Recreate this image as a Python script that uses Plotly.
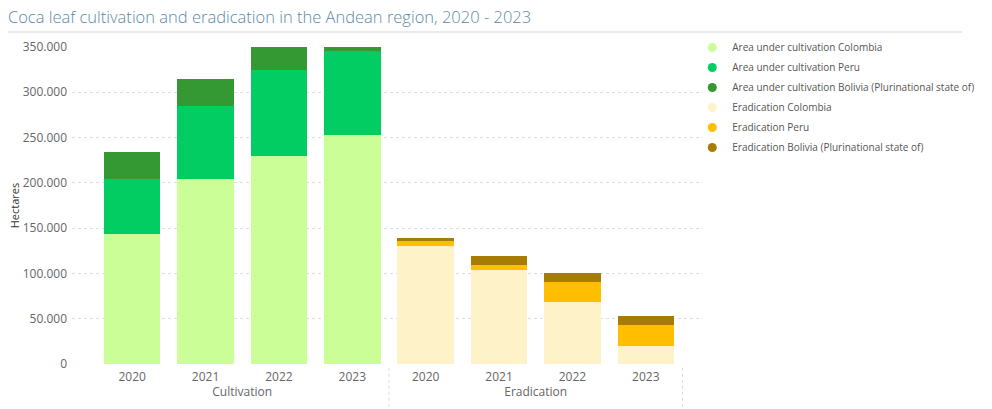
import plotly.graph_objects as go

# data (hectares)
years = ["2020", "2021", "2022", "2023"]
groups = ["Cultivation", "Eradication"]

cult_colombia = [143000, 204000, 230000, 253000]
cult_peru = [61800, 80700, 95000, 92800]
cult_bolivia = [29400, 30500, 29900, 31000]

erad_colombia = [130100, 103300, 69000, 20400]
erad_peru = [6200, 5800, 21300, 22500]
erad_bolivia = [2900, 9600, 10200, 10100]

names = [
    "Area under cultivation Colombia",
    "Area under cultivation Peru",
    "Area under cultivation Bolivia (Plurinational state of)",
    "Eradication Colombia",
    "Eradication Peru",
    "Eradication Bolivia (Plurinational state of)",
]
colors = ["#ccfe98", "#02cd63", "#349833", "#fef2c9", "#ffbf00", "#a67c05"]

# two level x axis: group / year
x_group = [groups[0]] * 4 + [groups[1]] * 4
x_year = years + years
x = [x_group, x_year]

empty = [None] * 4
series = [
    cult_colombia + empty,
    cult_peru + empty,
    cult_bolivia + empty,
    empty + erad_colombia,
    empty + erad_peru,
    empty + erad_bolivia,
]

fig = go.Figure()

for name, col, vals in zip(names, colors, series):
    fig.add_trace(go.Bar(
        x=x, y=vals, name=name,
        marker=dict(color=col, line=dict(width=0)),
        showlegend=False,
        hovertemplate="%{y:,}<extra>" + name + "</extra>",
    ))

# round legend markers like the original
for name, col in zip(names, colors):
    fig.add_trace(go.Scatter(
        x=[None], y=[None], mode="markers", name=name, legendgroup=name,
        marker=dict(symbol="circle", size=9, color=col),
    ))

# dotted separators below the axis
for xv in [3.5, 7.5]:
    fig.add_shape(type="line", xref="x", yref="paper",
                  x0=xv, x1=xv, y0=-0.012, y1=-0.135,
                  line=dict(color="#d9d9d9", width=1, dash="dot"))

# thin rule under the title
fig.add_shape(type="line", xref="paper", yref="paper",
              x0=-0.1014, x1=1.4105, y0=1.047, y1=1.047,
              line=dict(color="#e3e3e3", width=1.5))

fig.update_layout(
    width=992, height=409,
    margin=dict(l=72, r=289, t=47, b=45, autoexpand=False),
    paper_bgcolor="white", plot_bgcolor="white",
    font=dict(family="Open Sans, Segoe UI, sans-serif", color="#666666", size=12),
    separators=",.",
    barmode="stack",
    bargap=0.23,
    title=dict(
        text="Coca leaf cultivation and eradication in the Andean region, 2020 - 2023",
        xref="container", x=0.008, xanchor="left",
        yref="container", y=0.958, yanchor="middle",
        font=dict(size=16.5, color="#5b8aa8", weight=300,
                  family="Open Sans, Segoe UI, sans-serif"),
    ),
    legend=dict(
        x=0.983, xanchor="left", y=1.044, yanchor="top",
        font=dict(size=10, color="#555555"),
        traceorder="grouped", tracegroupgap=1,
        bgcolor="rgba(0,0,0,0)",
    ),
)

fig.update_xaxes(
    type="multicategory",
    range=[-0.82, 7.78],
    automargin=False,
    showdividers=False,
    showgrid=False, showline=False, ticks="",
    ticklabelstandoff=4,
    tickfont=dict(size=12, color="#666666"),
)

fig.update_yaxes(
    range=[0, 350000],
    automargin=False,
    tickvals=[0, 50000, 100000, 150000, 200000, 250000, 300000, 350000],
    tickformat=",",
    ticklabelstandoff=4,
    showgrid=True, gridcolor="#dddddd", griddash="dot", gridwidth=1,
    zeroline=False, showline=False,
    tickfont=dict(size=12, color="#666666"),
    title=dict(text="Hectares", font=dict(size=11, color="#333333"), standoff=0),
)

# page without the default body margin so the figure fills the window
fig.write_html("out.html", config={"displayModeBar": False},
               post_script="document.body.style.margin='0';")
